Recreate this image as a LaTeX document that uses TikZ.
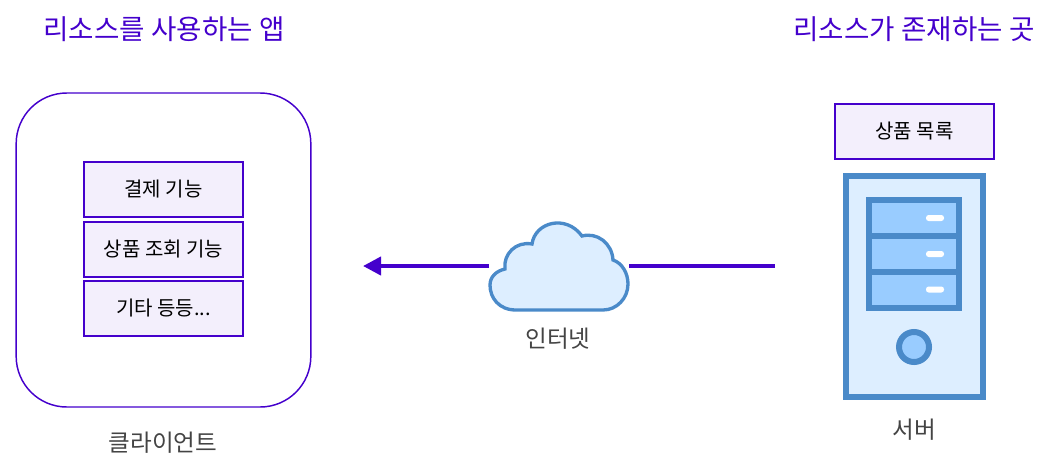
\documentclass[tikz,border=0pt]{standalone}
\usepackage{fontspec}
\setmainfont{Noto Sans CJK KR}
\definecolor{violet}{RGB}{68,0,204}
\definecolor{lilas}{RGB}{243,239,252}
\definecolor{bleu}{RGB}{74,138,201}
\definecolor{ciel}{RGB}{221,238,255}
\definecolor{azur}{RGB}{153,204,255}
\definecolor{gris}{RGB}{68,68,68}
\usetikzlibrary{arrows.meta,positioning}
\tikzset{
	titre/.style={violet,font=\fontsize{20.7}{22}\selectfont,inner sep=0pt},
	legende/.style={gris,font=\fontsize{17.7}{20}\selectfont,inner sep=0pt},
	boite/.style={draw=violet,fill=lilas,line width=1.1pt,minimum width=119pt,minimum height=41pt,inner sep=0pt,font=\fontsize{15}{17}\selectfont},
	fleche/.style={violet,line width=3pt},
	icone/.style={draw=bleu,line width=4.5pt,inner sep=0pt},
	tiroir/.style={icone,fill=azur,minimum width=67.5pt,minimum height=27pt},
	poignee/.style={fill=white,rounded corners=2pt,minimum width=13.5pt,minimum height=4.5pt,inner sep=0pt}
}
\begin{document}
\begin{tikzpicture}[x=0.75pt,y=-0.75pt]
	\useasboundingbox (0,0) rectangle (1052,465);
	\node[titre] (titreApp) at (164,29){리소스를 사용하는 앱};
	\node[titre] (titreSrv) at (914,29){리소스가 존재하는 곳};
	% client
	\node[draw=violet,line width=1.1pt,rounded corners=38pt,minimum width=221pt,minimum height=235.5pt,inner sep=0pt] (app) at (163.5,250){};
	\node[boite] (paiement) at (163.5,189.5){결제 기능};
	\node[boite] (consult) at (163.5,249.5){상품 조회 기능};
	\node[boite] (autres) at (163.5,308.5){기타 등등...};
	\node[legende] (client) at (163,443){클라이언트};
	% nuage
	\draw[bleu,fill=ciel,line width=2.5pt] (516,310) .. controls (499,310) and (490,298) .. (490,285)
		.. controls (490,277) and (496,271) .. (505,269)
		.. controls (503,254) and (516,241) .. (532,244)
		.. controls (535,222) and (566,214) .. (582,236)
		.. controls (597,232) and (612,243) .. (613,260)
		.. controls (622,263) and (628,273) .. (628,284)
		.. controls (628,298) and (617,310) .. (603,310) -- cycle;
	\node[legende] (internet) at (558,339){인터넷};
	% serveur
	\node[icone,fill=ciel,minimum width=102.75pt,minimum height=165.75pt] (srv) at (914.5,286.5){};
	\node[tiroir] (tiroirA) at (914,218){};
	\node[tiroir] (tiroirB) at (914,254){};
	\node[tiroir] (tiroirC) at (914,289.5){};
	\node[poignee] at (935,218){};
	\node[poignee] at (935,254){};
	\node[poignee] at (935,289.5){};
	\node[icone,circle,fill=azur,minimum size=22.5pt] (bouton) at (914,347){};
	\node[boite] (produits) at (914.5,131.5){상품 목록};
	\node[legende] (serveur) at (914,430){서버};
	% liaison
	\coordinate (depart) at (775,266);
	\coordinate (nuageD) at (629,266);
	\coordinate (nuageG) at (489,266);
	\coordinate (pointe) at (363,266);
	\draw[fleche] (depart)--(nuageD);
	\draw[fleche,-{Triangle[length=13.5pt,width=13.5pt]}] (nuageG)--(pointe);
\end{tikzpicture}
\end{document}
